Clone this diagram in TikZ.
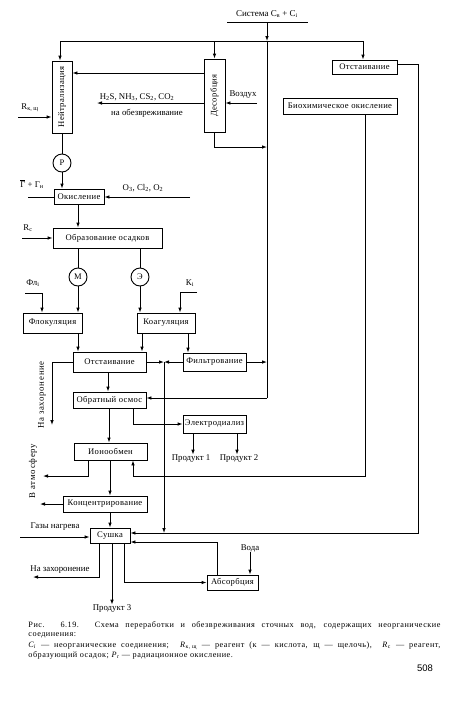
\documentclass[tikz,border=0pt]{standalone}
\usepackage{fontspec}
\setmainfont{Liberation Serif}
\newfontfamily\boxfont[LetterSpace=4]{Liberation Serif}
\newfontfamily\capfont[LetterSpace=6]{Liberation Serif}
\newfontfamily\rotfont[LetterSpace=8]{Liberation Serif}
\newfontfamily\pgfont{Liberation Sans}
\usetikzlibrary{arrows.meta}
\begin{document}
\begin{tikzpicture}[x=1pt,y=-1pt,line width=0.9pt,
  box/.style={draw,inner sep=0pt,font=\boxfont\fontsize{8.6}{9}\selectfont},
  circ/.style={draw,circle,minimum size=18pt,inner sep=0pt,font=\fontsize{8.5}{9}\selectfont},
  lbl/.style={inner sep=0pt,font=\fontsize{8.8}{10}\selectfont},
  rlbl/.style={inner sep=0pt,rotate=90,font=\rotfont\fontsize{8.8}{10}\selectfont},
  arr/.style={-{Latex[length=5pt,width=3.6pt]}},
  capl/.style={inner sep=0pt,anchor=base west,font=\capfont\fontsize{8.2}{9}\selectfont}]
\useasboundingbox (0,0) rectangle (450,705);
% ---- boxes
\node[box,minimum width=20pt,minimum height=72pt] (neut) at (62,97) {\rotatebox{90}{Нейтрализация}};
\node[box,minimum width=21pt,minimum height=73pt] (desorb) at (214.5,95.5) {\rotatebox{90}{Десорбция}};
\node[box,minimum width=65pt,minimum height=14pt] (otst1) at (364.5,67) {Отстаивание};
\node[box,minimum width=114pt,minimum height=16pt] (bio) at (340,106) {Биохимическое окисление};
\node[box,minimum width=50pt,minimum height=15pt] (okisl) at (79,196.5) {Окисление};
\node[box,minimum width=109pt,minimum height=20pt] (osad) at (107.5,238) {Образование осадков};
\node[circ] (P) at (62,163) {P};
\node[circ] (M) at (78,277) {M};
\node[circ] (E) at (140,277) {Э};
\node[box,minimum width=59pt,minimum height=20pt] (flok) at (52.5,323) {Флокуляция};
\node[box,minimum width=58pt,minimum height=20pt] (koag) at (166,323) {Коагуляция};
\node[box,minimum width=73pt,minimum height=20pt] (otst2) at (109.5,362) {Отстаивание};
\node[box,minimum width=63pt,minimum height=18pt] (filtr) at (214.5,362) {Фильтрование};
\node[box,minimum width=73pt,minimum height=16pt] (osmos) at (109.5,400) {Обратный осмос};
\node[box,minimum width=63pt,minimum height=18pt] (electro) at (214.5,424) {Электродиализ};
\node[box,minimum width=73pt,minimum height=17pt] (ion) at (110.5,451.5) {Ионообмен};
\node[box,minimum width=84pt,minimum height=16pt] (konc) at (105,504) {Концентрирование};
\node[box,minimum width=40pt,minimum height=15pt] (sush) at (110,535.5) {Сушка};
\node[box,minimum width=51pt,minimum height=15pt] (absorb) at (232.5,582.5) {Абсорбция};
% ---- labels
\node[lbl,font=\fontsize{9}{10}\selectfont] (sys) at (267,14) {Система C\textsubscript{в} + C\textsubscript{i}};
\node[lbl] (h2s) at (137,97) {H\textsubscript{2}S, NH\textsubscript{3}, CS\textsubscript{2}, CO\textsubscript{2}};
\node[lbl] (obez) at (147,113) {на обезвреживание};
\node[lbl] (air) at (243,95) {Воздух};
\node[lbl] (rkl) at (30,108) {R\textsubscript{к, щ}};
\node[lbl] (gl) at (32,184) {$\overline{\mbox{Г}}$ + Г\textsubscript{н}};
\node[lbl] (ol) at (143,188) {O\textsubscript{3}, Cl\textsubscript{2}, O\textsubscript{2}};
\node[lbl] (rcl) at (28,228) {R\textsubscript{с}};
\node[lbl] (fll) at (33,283) {Фл\textsubscript{i}};
\node[lbl] (kil) at (190,283) {К\textsubscript{i}};
\node[rlbl] (zahl1) at (42,395) {На захоронение};
\node[lbl] (p1) at (191,459) {Продукт 1};
\node[lbl] (p2) at (239,459) {Продукт 2};
\node[rlbl] (atml) at (33,471) {В атмосферу};
\node[lbl] (gasl) at (55,527) {Газы нагрева};
\node[lbl] (zahl2) at (60,570) {На захоронение};
\node[lbl] (p3) at (112,609) {Продукт 3};
\node[lbl] (voda) at (250,548) {Вода};
% ---- coordinates
\coordinate (sysL) at (227,22);
\coordinate (sysR) at (308,22);
\coordinate (sysB) at (267,22);
\coordinate (top) at (267,41);
\coordinate (topL) at (60,41);
\coordinate (topR) at (363,41);
\coordinate (rv) at (267,398);
\coordinate (h2sE) at (97,103);
\coordinate (airS) at (257,103);
\coordinate (rin) at (18,117);
\coordinate (gin) at (28,197);
\coordinate (oin) at (190,197);
\coordinate (rc) at (22,238);
\coordinate (fl) at (25,293);
\coordinate (flc) at (42,293);
\coordinate (ki) at (197,292);
\coordinate (kic) at (180,292);
\coordinate (jv) at (164,362);
\coordinate (jvb) at (164,533);
\coordinate (zah1) at (52,425);
\coordinate (bb) at (365,476);
\coordinate (ionr) at (133,476);
\coordinate (rr1) at (418,64);
\coordinate (rr2) at (418,533);
\coordinate (atm1) at (43,476);
\coordinate (atm2) at (40,504);
\coordinate (gas) at (20,537);
\coordinate (zah2) at (33,577);
\coordinate (ab2) at (217,542);
% ---- connectors
\draw (sysL) -- (sysR);
\draw[arr] (sysB) -- (top);
\draw (topL) -- (topR);
\draw[arr] (topL) -- (topL |- neut.north);
\draw[arr] (topL -| desorb.north) -- (desorb.north);
\draw[arr] (topR) -- (topR |- otst1.north);
\draw (top) -- (rv);
\draw[arr] (rv) -- (rv -| osmos.east);
\draw[arr] (desorb.south) |- (top |- 0,147);
\draw[arr] (desorb.west |- 0,73) -- (neut.east |- 0,73);
\draw[arr] (desorb.west |- h2sE) -- (h2sE);
\draw[arr] (airS) -- (airS -| desorb.east);
\draw[arr] (rin) -- (rin -| neut.west);
\draw (neut.south) -- (P.north);
\draw[arr] (P.south) -- (P.south |- okisl.north);
\draw (gin) -- (gin -| okisl.west);
\draw[arr] (oin) -- (oin -| okisl.east);
\draw[arr] (M |- okisl.south) -- (M |- osad.north);
\draw[arr] (rc) -- (rc -| osad.west);
\draw (M |- osad.south) -- (M.north);
\draw[arr] (M.south) -- (M |- flok.north);
\draw (E |- osad.south) -- (E.north);
\draw[arr] (E.south) -- (E |- koag.north);
\draw[arr] (fl) -- (flc) -- (flc |- flok.north);
\draw[arr] (ki) -- (kic) -- (kic |- koag.north);
\draw[arr] (M |- flok.south) -- (M |- otst2.north);
\draw[arr] (142,0 |- koag.south) -- (142,0 |- otst2.north);
\draw[arr] (188,0 |- koag.south) -- (188,0 |- filtr.north);
\draw[arr] (otst2.east) -- (jv);
\draw[arr] (filtr.west) -- (jv);
\draw[arr] (jv) -- (jvb);
\draw[arr] (filtr.east) -- (filtr.east -| top);
\draw[arr] (otst2.west) -| (zah1);
\draw[arr] (108,0 |- otst2.south) -- (108,0 |- osmos.north);
\draw[arr] (109,0 |- osmos.south) -- (109,0 |- ion.north);
\draw[arr] (133,0 |- osmos.south) |- (electro.west);
\draw[arr] (193,0 |- electro.south) -- (193,0 |- p1.north);
\draw[arr] (237,0 |- electro.south) -- (237,0 |- p2.north);
\draw[arr] (bio.south -| bb) -- (bb) -- (ionr) -- (ionr |- ion.south);
\draw[arr] (otst1.east |- rr1) -- (rr1) -- (rr2) -- (rr2 -| sush.east);
\draw[arr] (88,0 |- ion.south) |- (atm1);
\draw[arr] (110,0 |- ion.south) -- (110,0 |- konc.north);
\draw[arr] (konc.west) -- (atm2);
\draw[arr] (110,0 |- konc.south) -- (110,0 |- sush.north);
\draw[arr] (gas) -- (gas -| sush.west);
\draw[arr] (99,0 |- sush.south) |- (zah2);
\draw[arr] (112,0 |- sush.south) -- (112,0 |- p3.north);
\draw[arr] (124,0 |- sush.south) |- (absorb.west);
\draw[arr] (217,0 |- absorb.north) -- (ab2) -- (ab2 -| sush.east);
\draw[arr] (250,0 |- voda.south) -- (250,0 |- absorb.north);
% ---- caption
\node[capl] (c1) at (28,627) {\makebox[412pt][s]{Рис. 6.19. Схема переработки и обезвреживания сточных вод, содержащих неорганические}};
\node[capl] (c2) at (28,636) {соединения:};
\node[capl] (c3) at (28,647) {\makebox[412pt][s]{\textit{C\textsubscript{i}} — неорганические соединения; \ \textit{R}\textsubscript{к, щ} — реагент (к — кислота, щ — щелочь), \ \textit{R}\textsubscript{с} — реагент,}};
\node[capl] (c4) at (28,657) {образующий осадок; \textit{P}\textsubscript{r} — радиационное окисление.};
\node[inner sep=0pt,font=\pgfont\fontsize{9.5}{10}\selectfont] (pg) at (425,668) {508};
\end{tikzpicture}
\end{document}
